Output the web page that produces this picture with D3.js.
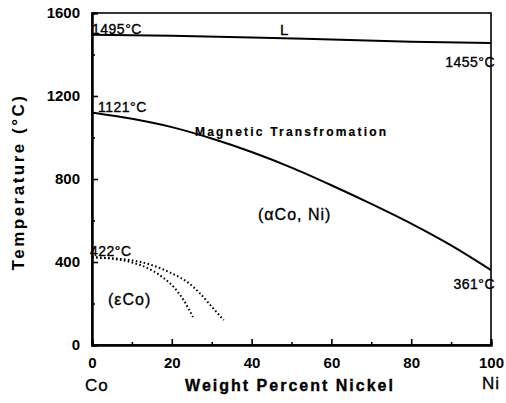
<!doctype html>
<html>
<head>
<meta charset="utf-8">
<style>
  body { margin: 0; background: #fff; }
  svg { display: block; font-family: "Liberation Sans", Arial, sans-serif; }
</style>
</head>
<body>
<script src="https://d3js.org/d3.v7.min.js"></script>
<script>
  // data (wt% Ni, temperature in C)
  var liquidusX = [0, 20, 40, 60, 80, 100];
  var liquidusT = [1495, 1490, 1482, 1472, 1462, 1455];
  var curieX = [0, 10, 20, 30, 40, 50, 60, 70, 80, 90, 100];
  var curieT = [1121, 1090, 1050, 995, 930, 855, 770, 680, 585, 480, 361];
  var hcpInnerX = [0, 5, 10, 15, 18, 21, 23, 25.3];
  var hcpInnerT = [422, 416, 398, 360, 322, 268, 215, 135];
  var hcpOuterX = [0, 5, 10, 15, 20, 24, 27, 30, 33];
  var hcpOuterT = [422, 418, 408, 385, 345, 302, 250, 185, 120];
  var xTicks = [0, 20, 40, 60, 80, 100];
  var xMinor = [10, 30, 50, 70, 90];
  var yTicks = [0, 400, 800, 1200, 1600];
  var yMinor = [200, 600, 1000, 1400];

  var W = 506, H = 403;
  var m = { top: 13, left: 92, right: 15, bottom: 58 };
  var w = W - m.left - m.right, h = H - m.top - m.bottom;

  var svg = d3.select("body").append("svg").attr("width", W).attr("height", H);
  var g = svg.append("g").attr("transform", "translate(" + m.left + "," + m.top + ")");

  var x = d3.scaleLinear().domain([0, 100]).range([0, w]);
  var y = d3.scaleLinear().domain([0, 1600]).range([h, 0]);

  //box
  g.append("rect").attr("width", w).attr("height", h)
    .attr("fill", "none").attr("stroke", "#000").attr("stroke-width", 1.6);

  //axes, ticks inward
  g.append("g").attr("transform", "translate(0," + h + ")")
    .call(d3.axisBottom(x).tickValues(xTicks).tickSize(-6).tickPadding(12).tickFormat(d3.format("d")));
  g.append("g").attr("transform", "translate(0," + h + ")")
    .call(d3.axisBottom(x).tickValues(xMinor).tickSize(-3).tickFormat(""));
  g.append("g")
    .call(d3.axisLeft(y).tickValues(yTicks).tickSize(-6).tickPadding(12).tickFormat(d3.format("d")));
  g.append("g")
    .call(d3.axisLeft(y).tickValues(yMinor).tickSize(-3).tickFormat(""));
  g.selectAll(".domain").attr("stroke-width", 2);
  g.selectAll(".tick line").attr("stroke-width", 1.6);
  g.selectAll(".tick text").attr("font-size", 15).attr("font-weight", "bold")
    .attr("font-family", "Liberation Sans, Arial, sans-serif").attr("fill", "#000");

  var line = d3.line().x(function(d){ return x(d[0]); }).y(function(d){ return y(d[1]); })
    .curve(d3.curveMonotoneX);
  function pts(a, b){ return a.map(function(v, i){ return [v, b[i]]; }); }

  g.append("path").attr("d", line(pts(liquidusX, liquidusT)))
    .attr("fill", "none").attr("stroke", "#000").attr("stroke-width", 2);
  g.append("path").attr("d", line(pts(curieX, curieT)))
    .attr("fill", "none").attr("stroke", "#000").attr("stroke-width", 2);
  [pts(hcpInnerX, hcpInnerT), pts(hcpOuterX, hcpOuterT)].forEach(function(p){
    g.append("path").attr("d", line(p))
      .attr("fill", "none").attr("stroke", "#000").attr("stroke-width", 2)
      .attr("stroke-dasharray", "1.6,2.4");
  });

  function label(txt, px, py, size, opts){
    opts = opts || {};
    return svg.append("text").attr("x", px).attr("y", py).text(txt)
      .attr("font-size", size)
      .attr("font-weight", opts.weight || "normal")
      .attr("letter-spacing", opts.ls || 0)
      .attr("text-anchor", opts.anchor || "start")
      .attr("stroke", "#000").attr("stroke-width", opts.sw || 0.35)
      .attr("fill", "#000");
  }

  label("1495°C", 92, 34, 14, { ls: 0.5 });
  label("L", 280, 35, 15);
  label("1455°C", 495, 67, 14, { anchor: "end", ls: 0.5 });
  label("1121°C", 98, 112, 14, { ls: 0.5 });
  label("Magnetic Transfromation", 195, 136, 12, { weight: 900, ls: 2.2, sw: 0.2 });
  label("(αCo, Ni)", 258, 220, 16, { ls: 1 });
  label("361°C", 495, 289, 14, { anchor: "end", ls: 0.5 });
  label("422°C", 90, 256, 14, { ls: 0.5 });
  label("(εCo)", 108, 305, 16, { ls: 1 });
  label("Co", 85, 391, 17, { ls: 1 });
  label("Weight Percent Nickel", 290, 391, 16, { weight: "bold", ls: 2, anchor: "middle", sw: 0 });
  label("Ni", 482, 389, 17, { ls: 1 });

  svg.append("text").attr("transform", "translate(24,182) rotate(-90)")
    .attr("text-anchor", "middle").attr("font-size", 17).attr("font-weight", "bold")
    .attr("letter-spacing", 2.5).text("Temperature (°C)");
</script>
</body>
</html>
